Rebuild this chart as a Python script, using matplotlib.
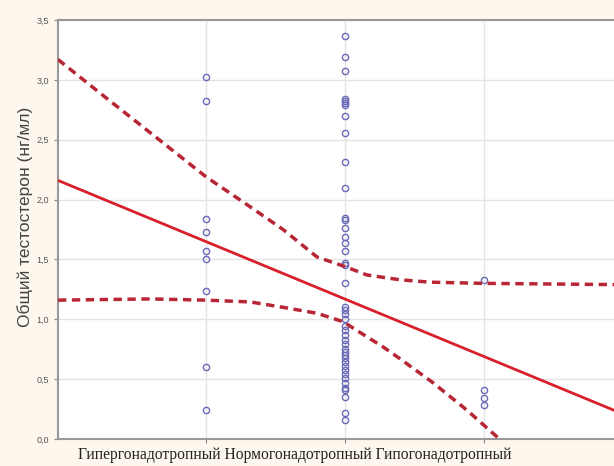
import numpy as np
import matplotlib
matplotlib.use("Agg")
from matplotlib import pyplot as plt

# groups on x (1, 2, 3) and measured testosterone values
group_names = ["Гипергонадотропный", "Нормогонадотропный", "Гипогонадотропный"]
hyper = [3.02, 2.82, 1.84, 1.73, 1.57, 1.50, 1.24, 0.60, 0.24]
normo = [3.37, 3.19, 3.07, 2.84, 2.82, 2.81, 2.79, 2.70, 2.56, 2.31, 2.10,
         1.85, 1.83, 1.76, 1.69, 1.64, 1.57, 1.47, 1.45, 1.30, 1.10, 1.08,
         1.04, 1.00, 0.94, 0.91, 0.87, 0.83, 0.79, 0.75, 0.73, 0.70, 0.68,
         0.64, 0.61, 0.58, 0.54, 0.51, 0.47, 0.43, 0.41, 0.35, 0.22, 0.16]
hypo = [1.33, 0.41, 0.34, 0.28]

# regression line and confidence band
fit_x = [-0.065, 3.935]
fit_y = [2.16, 0.24]
upper_x = [-0.065, 0.237, 0.597, 1.0, 1.317, 1.554, 1.799, 2.0, 2.158, 2.396, 2.612, 3.0, 3.935]
upper_y = [3.17, 2.89, 2.56, 2.19, 1.94, 1.75, 1.52, 1.44, 1.37, 1.33, 1.31, 1.30, 1.29]
lower_x = [-0.065, 0.597, 1.0, 1.317, 1.554, 1.799, 1.986, 2.108, 2.273, 2.396, 2.633, 2.878, 3.101, 3.2]
lower_y = [1.16, 1.17, 1.16, 1.145, 1.10, 1.05, 0.98, 0.89, 0.77, 0.67, 0.47, 0.24, 0.01, -0.08]

yticks = [0.0, 0.5, 1.0, 1.5, 2.0, 2.5, 3.0, 3.5]

fig = plt.figure(figsize=(6.14, 4.66), dpi=100, facecolor="#fdf7ee")
ax = fig.add_axes([58 / 614, 1 - 439 / 466, 1 - 58 / 614, 419 / 466])
ax.set_facecolor("white")

ax.set_xlim(-0.065, 3.935)
ax.set_ylim(0, 3.5)
ax.set_xticks([1, 2, 3])
ax.set_xticklabels([])
ax.set_yticks(yticks)
ax.set_yticklabels([("%.1f" % v).replace(".", ",") for v in yticks],
                   fontsize=6.5, color="#555555", family="Liberation Sans")
ax.tick_params(axis="both", length=3, color="#888888", width=0.8)
ax.grid(True, color="#e4e4e4", linewidth=1.0)
ax.set_axisbelow(True)
for s in ["left", "bottom", "top"]:
    ax.spines[s].set_color("#999999")
    ax.spines[s].set_linewidth(1.5)
ax.spines["right"].set_visible(False)

for i, vals in enumerate([hyper, normo, hypo]):
    ax.plot([i + 1] * len(vals), vals, "o", ms=4.5, mfc="none",
            mec="#6a6ab8", mew=1.0, zorder=3)

ax.plot(fit_x, fit_y, color="#d8202a", lw=2, zorder=4)
ax.plot(upper_x, upper_y, color="#b82635", lw=2.5, dashes=(2.4, 1.6), zorder=4)
ax.plot(lower_x, lower_y, color="#b82635", lw=2.5, dashes=(2.4, 1.6), zorder=4)

ax.set_ylabel("Общий тестостерон (нг/мл)", fontsize=12.5, family="Liberation Sans",
              color="#444444")
ax.yaxis.set_label_coords(-0.045, 0.53)

fig.text(295 / 614, 1 - 455 / 466, " ".join(group_names), ha="center", va="center",
         fontsize=11.2, family="Liberation Serif", color="#222222")

fig.savefig("out.png", dpi=100, facecolor=fig.get_facecolor())
